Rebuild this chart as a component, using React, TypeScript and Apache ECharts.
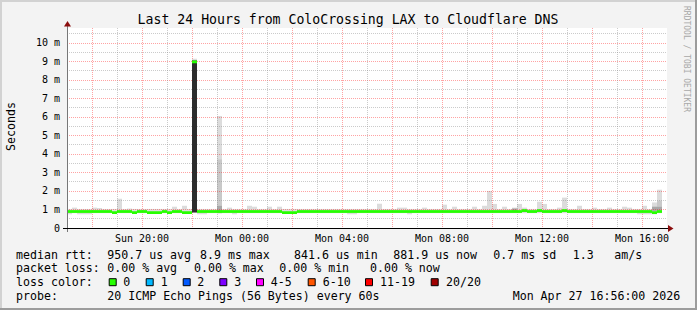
import React, { useEffect, useRef } from 'react';
import * as echarts from 'echarts';

// ---------- texts ----------
const title = 'Last 24 Hours from ColoCrossing LAX to Cloudflare DNS';
const yAxisName = 'Seconds';
const watermark = 'RRDTOOL / TOBI OETIKER';

// x axis: hours after Sun 17:00 (24 h window)
const xLabelHours = [3, 7, 11, 15, 19, 23];
const xLabels = ['Sun 20:00', 'Mon 00:00', 'Mon 04:00', 'Mon 08:00', 'Mon 12:00', 'Mon 16:00'];

// ---------- data: 120 slots of 12 minutes, values in ms ----------
const median: (number | null)[] = [
  0.89, 0.89, 0.89, 0.89, 0.89, 0.89, 0.89, 0.89, 0.89, 0.83,
  0.89, 0.89, 0.89, 0.83, 0.89, 0.89, 0.83, 0.83, 0.83, 0.89,
  0.83, 0.89, 0.89, 0.83, 0.83, 8.97, 0.89, 0.89, 0.89, 0.89,
  0.89, 0.89, 0.89, 0.89, 0.89, 0.89, 0.89, 0.89, 0.89, 0.89,
  0.89, 0.89, 0.89, 0.83, 0.83, 0.83, 0.89, 0.89, 0.89, 0.89,
  0.89, 0.89, 0.89, 0.89, 0.89, 0.89, 0.89, 0.89, 0.89, 0.89,
  0.89, 0.89, 0.89, 0.89, 0.89, 0.89, 0.89, 0.89, 0.89, 0.89,
  0.89, 0.89, 0.89, 0.89, 0.89, 0.89, 0.89, 0.89, 0.89, 0.89,
  0.89, 0.89, 0.89, 0.89, 0.89, 0.89, 0.89, 0.89, 0.89, 0.89,
  0.89, 0.94, 0.89, 0.89, 0.94, 0.89, 0.89, 0.89, 0.89, 0.94,
  0.89, 0.89, 0.89, 0.89, 0.89, 0.89, 0.89, 0.89, 0.89, 0.89,
  0.89, 0.89, 0.89, 0.89, 0.89, 0.89, 0.89, 0.83, 0.89, null,
];

const smokeMin: (number | null)[] = [
  0.74, 0.8, 0.74, 0.74, 0.74, 0.8, 0.8, 0.8, 0.8, 0.8,
  0.8, 0.8, 0.8, 0.8, 0.8, 0.8, 0.8, 0.8, 0.8, 0.8,
  0.8, 0.8, 0.8, 0.8, 0.8, 0.84, 0.74, 0.74, 0.8, 0.8,
  0.8, 0.8, 0.8, 0.74, 0.8, 0.8, 0.8, 0.8, 0.8, 0.8,
  0.8, 0.8, 0.8, 0.8, 0.8, 0.8, 0.8, 0.8, 0.8, 0.8,
  0.8, 0.8, 0.8, 0.8, 0.8, 0.8, 0.74, 0.74, 0.8, 0.8,
  0.8, 0.8, 0.8, 0.8, 0.8, 0.8, 0.8, 0.8, 0.74, 0.8,
  0.8, 0.8, 0.8, 0.8, 0.8, 0.8, 0.8, 0.8, 0.8, 0.8,
  0.8, 0.8, 0.8, 0.8, 0.8, 0.8, 0.8, 0.8, 0.8, 0.8,
  0.8, 0.8, 0.8, 0.8, 0.8, 0.8, 0.8, 0.8, 0.8, 0.8,
  0.8, 0.8, 0.8, 0.8, 0.8, 0.8, 0.8, 0.8, 0.8, 0.8,
  0.8, 0.8, 0.8, 0.8, 0.74, 0.74, 0.74, 0.74, 0.8, null,
];

const smokeMax: (number | null)[] = [
  1.03, 1.1, 1.03, 1.03, 1.03, 1.1, 1.08, 1.03, 1.03, 1.03,
  1.58, 1.03, 1.05, 1.03, 1.03, 1.03, 1.03, 1.03, 1.03, 1.03,
  1.03, 1.15, 1.03, 1.2, 1.03, 9.14, 1.03, 1.03, 1.03, 1.03,
  6.05, 1.03, 1.1, 1.03, 1.03, 1.03, 1.2, 1.15, 1.03, 1.03,
  1.15, 1.03, 1.15, 1.03, 1.03, 1.03, 1.03, 1.03, 1.03, 1.03,
  1.03, 1.03, 1.03, 1.03, 1.03, 1.03, 1.03, 1.03, 1.03, 1.03,
  1.03, 1.03, 1.31, 1.03, 1.03, 1.03, 1.1, 1.1, 1.03, 1.03,
  1.03, 1.1, 1.03, 1.03, 1.03, 1.26, 1.03, 1.15, 1.03, 1.03,
  1.03, 1.15, 1.03, 1.2, 2.0, 1.3, 1.03, 1.15, 1.03, 1.1,
  1.3, 1.1, 1.03, 1.03, 1.42, 1.3, 1.03, 1.03, 1.1, 1.64,
  1.03, 1.03, 1.2, 1.03, 1.03, 1.1, 1.03, 1.03, 1.1, 1.03,
  1.03, 1.15, 1.1, 1.03, 1.03, 1.2, 1.03, 1.38, 2.07, null,
];

// denser smoke bands: [slot, from ms, to ms]
const heavySmoke: number[][] = [[25, 0.84, 9.05]];
const midSmoke: number[][] = [[30, 1.2, 3.7], [118, 1.15, 1.47]];
const innerSmoke: number[][] = [[30, 0.8, 1.2], [89, 0.9, 1.05], [117, 0.9, 1.15], [118, 0.95, 1.15]];

// ---------- legend ----------
const rttLabel = 'median rtt:';
const rttStats = ['950.7 us avg', '8.9 ms max', '841.6 us min', '881.9 us now', '0.7 ms sd', '1.3', 'am/s'];
const lossLabel = 'packet loss:';
const lossStats = ['0.00 % avg', '0.00 % max', '0.00 % min', '0.00 % now'];
const colorLabel = 'loss color:';
const lossLabels = ['0', '1', '2', '3', '4-5', '6-10', '11-19', '20/20'];
const lossColors = ['#26ff00', '#00b8ff', '#0059ff', '#7e00ff', '#ff00ff', '#ff5500', '#ff0000', '#a00000'];
const probeLabel = 'probe:';
const probeText = '20 ICMP Echo Pings (56 Bytes) every 60s';
const stampText = 'Mon Apr 27 16:56:00 2026';

// ---------- layout ----------
const W = 697;
const H = 310;
const MONO = 'DejaVu Sans Mono';
const rttX = [107.3, 200, 294, 393.3, 493.3, 572.7, 614.3];
const lossX = [107.3, 194, 279.3, 370];
const boxX = [108.7, 145.7, 182.7, 219.3, 256, 307.7, 365, 430.7];
const boxLabelX = [123.3, 160.7, 197.3, 234.3, 270.7, 322.7, 380, 446];
const rowY = [254.7, 268.4, 282.2, 296];
const MED_W = 0.15;

function sparse(bands: number[][]) {
  const base: (number | null)[] = median.map(() => null);
  const size: (number | null)[] = median.map(() => null);
  bands.forEach(([i, lo, hi]) => {
    base[i] = lo;
    size[i] = +(hi - lo).toFixed(3);
  });
  return { base, size };
}

const barCommon = {
  type: 'bar',
  xAxisIndex: 1,
  yAxisIndex: 0,
  barGap: '-100%',
  barCategoryGap: '0%',
  silent: true,
};

function band(name: string, base: (number | null)[], size: (number | null)[], color: string, z: number) {
  return [
    { ...barCommon, name: name + '-base', stack: name, data: base, itemStyle: { color: 'rgba(0,0,0,0)' }, z },
    { ...barCommon, name, stack: name, data: size, itemStyle: { color }, z },
  ];
}

function buildOption() {
  const cats = median.map((_, i) => String(i));
  const lightSize = smokeMin.map((lo, i) => {
    const hi = smokeMax[i];
    return lo == null || hi == null ? null : +(hi - lo).toFixed(3);
  });
  const mid = sparse(midSmoke);
  const inner = sparse(innerSmoke);
  const heavy = sparse(heavySmoke);
  const medBase = median.map((m) => (m == null ? null : +(m - MED_W / 2).toFixed(3)));
  const medSize = median.map((m) => (m == null ? null : MED_W));

  const series = [
    ...band('smoke', smokeMin, lightSize, '#dcdcdc', 2),
    ...band('mid', mid.base, mid.size, '#c9c9c9', 2),
    ...band('inner', inner.base, inner.size, '#a8a8a8', 2),
    ...band('heavy', heavy.base, heavy.size, '#2d2d2d', 4),
    ...band('median', medBase, medSize, lossColors[0], 5),
  ];

  const textStyle = (text: string, size: number, extra: any = {}) => ({
    text,
    fontFamily: MONO,
    fontSize: size,
    fill: '#000',
    align: 'left',
    verticalAlign: 'middle',
    ...extra,
  });

  const graphic: any[] = [];
  // frame
  graphic.push(
    { type: 'rect', shape: { x: 0, y: 0, width: W, height: 2 }, style: { fill: '#d2d2d2' }, z: 100, silent: true },
    { type: 'rect', shape: { x: 0, y: 0, width: 2, height: H }, style: { fill: '#d2d2d2' }, z: 100, silent: true },
    { type: 'rect', shape: { x: 0, y: H - 2, width: W, height: 2 }, style: { fill: '#9c9c9c' }, z: 100, silent: true },
    { type: 'rect', shape: { x: W - 2, y: 0, width: 2, height: H }, style: { fill: '#9c9c9c' }, z: 100, silent: true },
  );
  // title, axis name, watermark
  graphic.push(
    { type: 'text', x: 348, y: 19.5, style: textStyle(title, 13.2, { align: 'center' }), z: 100 },
    { type: 'text', x: 11, y: 126.5, rotation: Math.PI / 2, style: textStyle(yAxisName, 11.6, { align: 'center' }), z: 100 },
    { type: 'text', x: 686.5, y: 59, rotation: -Math.PI / 2, style: textStyle(watermark, 8, { align: 'center', fill: '#a8a8a8' }), z: 100 },
  );
  // axis extensions and arrows
  graphic.push(
    { type: 'line', shape: { x1: 67.5, y1: 232, x2: 67.5, y2: 25 }, style: { stroke: '#777', lineWidth: 1 }, z: 100 },
    { type: 'polygon', shape: { points: [[64, 26.5], [71, 26.5], [67.5, 21]] }, style: { fill: '#8b0d0d' }, z: 101 },
    { type: 'line', shape: { x1: 63, y1: 228.5, x2: 669, y2: 228.5 }, style: { stroke: '#000', lineWidth: 1 }, z: 100 },
    { type: 'polygon', shape: { points: [[668, 225], [668, 232], [673.5, 228.5]] }, style: { fill: '#8b0d0d' }, z: 101 },
  );
  // legend
  graphic.push({ type: 'text', x: 16, y: rowY[0], style: textStyle(rttLabel, 11.6), z: 100 });
  rttStats.forEach((t, k) => graphic.push({ type: 'text', x: rttX[k], y: rowY[0], style: textStyle(t, 11.6), z: 100 }));
  graphic.push({ type: 'text', x: 16, y: rowY[1], style: textStyle(lossLabel, 11.6), z: 100 });
  lossStats.forEach((t, k) => graphic.push({ type: 'text', x: lossX[k], y: rowY[1], style: textStyle(t, 11.6), z: 100 }));
  graphic.push({ type: 'text', x: 16, y: rowY[2], style: textStyle(colorLabel, 11.6), z: 100 });
  lossLabels.forEach((t, k) => {
    graphic.push({
      type: 'rect',
      shape: { x: boxX[k] + 0.5, y: rowY[2] - 3.5, width: 7, height: 7 },
      style: { fill: lossColors[k], stroke: '#000', lineWidth: 1 },
      z: 100,
    });
    graphic.push({ type: 'text', x: boxLabelX[k], y: rowY[2], style: textStyle(t, 11.6), z: 100 });
  });
  graphic.push({ type: 'text', x: 16, y: rowY[3], style: textStyle(probeLabel, 11.6), z: 100 });
  graphic.push({ type: 'text', x: 107.3, y: rowY[3], style: textStyle(probeText, 11.6), z: 100 });
  graphic.push({ type: 'text', x: 512.7, y: rowY[3], style: textStyle(stampText, 11.6), z: 100 });

  const majorGrid = 'rgba(255,0,0,0.36)';
  const minorGrid = 'rgba(140,140,140,0.45)';

  return {
    animation: false,
    backgroundColor: '#f3f3f3',
    grid: { left: 67, right: 30, top: 28, bottom: 82, show: true, backgroundColor: '#ffffff', borderWidth: 0 },
    xAxis: [
      {
        type: 'value',
        min: 0,
        max: 24,
        interval: 1,
        z: 3,
        axisLine: { show: false },
        axisTick: { show: false },
        axisLabel: {
          interval: 0,
          margin: 5,
          fontFamily: MONO,
          fontSize: 10,
          color: '#000',
          formatter: (v: number) => {
            const k = xLabelHours.indexOf(Math.round(v));
            return k >= 0 ? xLabels[k] : '';
          },
        },
        splitLine: {
          show: true,
          showMinLine: true,
          showMaxLine: false,
          lineStyle: { color: [minorGrid, majorGrid], type: [1, 1], width: 1 },
        },
      },
      { type: 'category', data: cats, show: false, boundaryGap: true },
    ],
    yAxis: {
      type: 'value',
      min: 0,
      max: 10.8,
      interval: 0.5,
      z: 3,
      axisLine: { show: false },
      axisTick: { show: false },
      axisLabel: {
        margin: 7,
        fontFamily: MONO,
        fontSize: 10,
        color: '#000',
        formatter: (v: number) => {
          if (Math.abs(v) < 1e-9) return '0';
          return Math.abs(v - Math.round(v)) < 1e-9 ? `${Math.round(v)} m` : '';
        },
      },
      splitLine: {
        show: true,
        showMinLine: true,
        showMaxLine: false,
        lineStyle: { color: [majorGrid, minorGrid], type: [1, 1], width: 1 },
      },
    },
    series,
    graphic,
  };
}

export default function App() {
  const ref = useRef<HTMLDivElement>(null);
  useEffect(() => {
    if (!ref.current) return;
    const chart = echarts.init(ref.current, null, { renderer: 'svg' });
    chart.setOption(buildOption() as any);
    return () => chart.dispose();
  }, []);
  return <div ref={ref} style={{ position: 'absolute', left: 0, top: 0, width: W, height: H }} />;
}
